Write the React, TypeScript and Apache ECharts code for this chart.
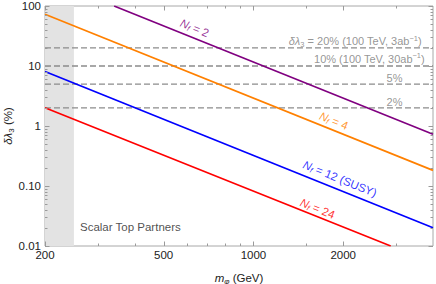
import React, { useEffect, useRef } from 'react';
import * as echarts from 'echarts';

// ---- data ----
const xRange = [200, 4000];
const yRange = [0.01, 100];
const excludedRange = [200, 250];

const nf2 = [[341, 100], [4000, 0.727]];
const nf4 = [[200, 72.7], [4000, 0.182]];
const nf12 = [[200, 8.1], [4000, 0.0202]];
const nf24 = [[200, 2.02], [2885, 0.01]];

const thresholds = [20, 10, 5, 2];

const xMajorTicks = [200, 500, 1000, 2000];
const xMinorTicks = [300, 400, 600, 700, 800, 900, 1500, 3000];
const yMajorTicks = [0.01, 0.1, 1, 10, 100];
const yMinorTicks = [
  0.02, 0.03, 0.04, 0.05, 0.06, 0.07, 0.08, 0.09,
  0.2, 0.3, 0.4, 0.5, 0.6, 0.7, 0.8, 0.9,
  2, 3, 4, 5, 6, 7, 8, 9,
  20, 30, 40, 50, 60, 70, 80, 90,
];

const FONT = '"Liberation Sans", Arial, sans-serif';
const TICK = '#9a9a9a';
const THR = '#7a7a7a';

function nfRich(color: string) {
  return {
    n: { fontFamily: FONT, fontSize: 11.5, fontStyle: 'italic', color, lineHeight: 14 },
    s: { fontFamily: FONT, fontSize: 7.5, fontStyle: 'italic', color, lineHeight: 8, verticalAlign: 'bottom' },
    t: { fontFamily: FONT, fontSize: 11.5, color, lineHeight: 14 },
  };
}

const thrRich = {
  i: { fontFamily: FONT, fontSize: 11, fontStyle: 'italic', color: THR, lineHeight: 14 },
  s: { fontFamily: FONT, fontSize: 7.5, color: THR, lineHeight: 8, verticalAlign: 'bottom' },
  p: { fontFamily: FONT, fontSize: 7.5, color: THR, lineHeight: 8, verticalAlign: 'top' },
  t: { fontFamily: FONT, fontSize: 11, color: THR, lineHeight: 14 },
};

export default function App() {
  const ref = useRef<HTMLDivElement>(null);
  useEffect(() => {
    if (!ref.current) return;
    const chart = echarts.init(ref.current, null, { renderer: 'svg' });

    const tickData = [
      ...xMajorTicks.map((v) => [v, yRange[0], 0]),
      ...xMinorTicks.map((v) => [v, yRange[0], 1]),
      ...yMajorTicks.map((v) => [xRange[0], v, 2]),
      ...yMinorTicks.map((v) => [xRange[0], v, 3]),
    ];

    const lineSeries = (name: string, data: number[][], color: string) => ({
      type: 'line',
      name,
      data,
      showSymbol: false,
      symbol: 'none',
      z: 4,
      lineStyle: { color, width: 1.7 },
      silent: true,
    });

    const thrSeries = thresholds.map((t) => ({
      type: 'line',
      name: `${t}%`,
      data: [[xRange[0], t], [xRange[1], t]],
      symbol: 'none',
      z: 3,
      lineStyle: { color: '#8c8c8c', width: 1.3, type: [6, 3] },
      silent: true,
    }));

    const labelPoint = (
      x: number, y: number, text: string, rich: any, rotate: number, position: any, color: string,
    ) => ({
      type: 'scatter',
      data: [[x, y]],
      symbolSize: 0,
      z: 5,
      silent: true,
      itemStyle: { color },
      label: {
        show: true, formatter: text, rich, rotate, position, distance: 0,
        color, textBorderWidth: 0, textBorderColor: 'transparent',
      },
    });

    const option: any = {
      animation: false,
      grid: {
        left: 45, right: 3, top: 6, bottom: 38,
        containLabel: false,
        outerBoundsMode: 'none',
        show: true, borderColor: '#a8a8a8', borderWidth: 1,
      },
      xAxis: {
        type: 'log',
        logBase: 10,
        min: xRange[0],
        max: xRange[1],
        axisLine: { show: false },
        axisTick: { show: false },
        axisLabel: { show: false },
        splitLine: { show: false },
        name: '{i|m}{s|φ}{t| (GeV)}',
        nameLocation: 'middle',
        nameMoveOverlap: false,
        nameGap: 25,
        nameTextStyle: {
          rich: {
            i: { fontFamily: FONT, fontSize: 11.5, fontStyle: 'italic', color: '#222', lineHeight: 14 },
            s: { fontFamily: FONT, fontSize: 8, fontStyle: 'italic', color: '#222', lineHeight: 8, verticalAlign: 'bottom' },
            t: { fontFamily: FONT, fontSize: 11.5, color: '#222', lineHeight: 14 },
          },
        },
      },
      yAxis: {
        type: 'log',
        logBase: 10,
        min: yRange[0],
        max: yRange[1],
        axisLine: { show: false },
        axisTick: { show: false },
        splitLine: { show: false },
        axisLabel: {
          fontFamily: FONT,
          fontSize: 11.5,
          color: '#222',
          margin: 4,
          formatter: (v: number) => (v >= 1 ? String(Math.round(v)) : v.toFixed(2)),
        },
        name: '{i|δλ}{s|3}{t| (%)}',
        nameLocation: 'middle',
        nameMoveOverlap: false,
        nameRotate: 90,
        nameGap: 30,
        nameTextStyle: {
          rich: {
            i: { fontFamily: FONT, fontSize: 11.5, fontStyle: 'italic', color: '#222', lineHeight: 14 },
            s: { fontFamily: FONT, fontSize: 8, color: '#222', lineHeight: 8, verticalAlign: 'bottom' },
            t: { fontFamily: FONT, fontSize: 11.5, color: '#222', lineHeight: 14 },
          },
        },
      },
      series: [
        {
          type: 'line',
          data: [],
          z: 1,
          silent: true,
          markArea: {
            silent: true,
            itemStyle: { color: '#e3e3e3' },
            data: [[{ xAxis: excludedRange[0] }, { xAxis: excludedRange[1] }]],
          },
        },
        ...thrSeries,
        lineSeries('Nf=2', nf2, '#800080'),
        lineSeries('Nf=4', nf4, '#ff8000'),
        lineSeries('Nf=12', nf12, '#0000ff'),
        lineSeries('Nf=24', nf24, '#ff0000'),
        labelPoint(635, 43, '{n|N}{s|f}{t| = 2}', nfRich('#800080'), -22, 'inside', '#800080'),
        labelPoint(1860, 1.22, '{n|N}{s|f}{t| = 4}', nfRich('#ff8000'), -22, 'inside', '#ff8000'),
        labelPoint(1950, 0.132, '{n|N}{s|f}{t| = 12 (SUSY)}', nfRich('#0000ff'), -22, 'inside', '#0000ff'),
        labelPoint(1640, 0.042, '{n|N}{s|f}{t| = 24}', nfRich('#ff0000'), -22, 'inside', '#ff0000'),
        labelPoint(3665, 26.1, '{i|δλ}{s|3}{t| = 20% (100 TeV, 3ab}{p|−1}{t|)}', thrRich, 0, 'left', THR),
        labelPoint(3752, 13.1, '{t|10% (100 TeV, 30ab}{p|−1}{t|)}', thrRich, 0, 'left', THR),
        labelPoint(2973, 6.31, '{t|5%}', thrRich, 0, 'inside', THR),
        labelPoint(2973, 2.51, '{t|2%}', thrRich, 0, 'inside', THR),
        {
          type: 'scatter',
          data: [[262, 0.0207]],
          symbolSize: 0,
          z: 5,
          silent: true,
          label: {
            show: true,
            formatter: 'Scalar Top Partners',
            position: 'right',
            distance: 0,
            fontFamily: FONT,
            fontSize: 11.5,
            color: '#222',
          },
        },
        {
          type: 'custom',
          data: tickData,
          z: 6,
          silent: true,
          clip: false,
          renderItem: (params: any, api: any) => {
            const cs = params.coordSys;
            const kind = api.value(2);
            const p = api.coord([api.value(0), api.value(1)]);
            const style = { stroke: TICK, lineWidth: 1 };
            const children: any[] = [];
            if (kind < 2) {
              const len = kind === 0 ? 4.5 : 2.5;
              const x = Math.round(p[0]) + 0.5;
              const bottom = cs.y + cs.height;
              const top = cs.y;
              children.push({ type: 'line', shape: { x1: x, y1: bottom, x2: x, y2: bottom - len }, style });
              children.push({ type: 'line', shape: { x1: x, y1: top, x2: x, y2: top + len }, style });
              if (kind === 0) {
                children.push({
                  type: 'text',
                  x: p[0],
                  y: bottom + 3,
                  style: {
                    text: String(api.value(0)),
                    fill: '#222',
                    fontFamily: FONT,
                    fontSize: 11.5,
                    align: 'center',
                    verticalAlign: 'top',
                  },
                });
              }
            } else {
              const len = kind === 2 ? 4.5 : 2.5;
              const y = Math.round(p[1]) + 0.5;
              const left = cs.x;
              const right = cs.x + cs.width;
              children.push({ type: 'line', shape: { x1: left, y1: y, x2: left + len, y2: y }, style });
              children.push({ type: 'line', shape: { x1: right, y1: y, x2: right - len, y2: y }, style });
            }
            return { type: 'group', children };
          },
        },
      ],
    };

    chart.setOption(option);
    return () => chart.dispose();
  }, []);

  return (
    <div
      ref={ref}
      style={{ position: 'fixed', left: 0, top: 0, width: 436, height: 284, background: '#fff' }}
    />
  );
}
